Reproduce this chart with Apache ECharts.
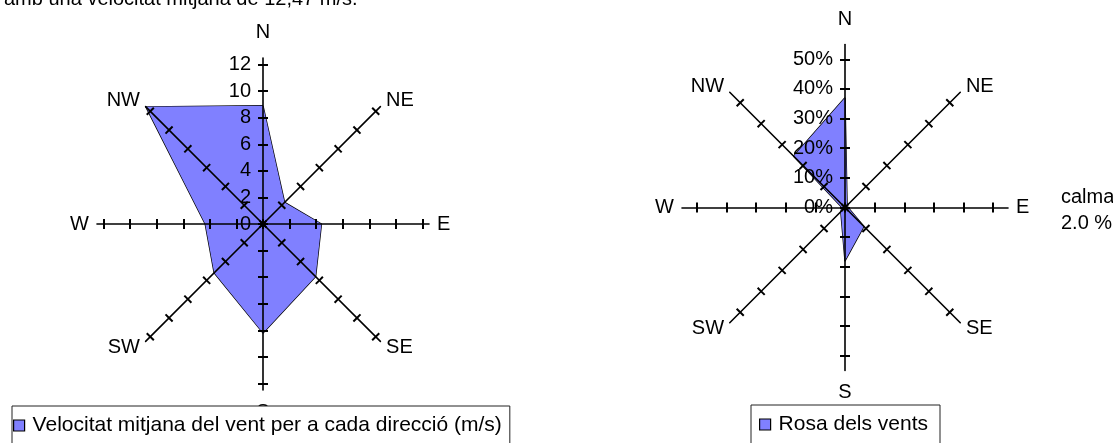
<!DOCTYPE html>
<html>
<head>
<meta charset="utf-8">
<script src="https://cdn.jsdelivr.net/npm/echarts@6/dist/echarts.min.js"></script>
<style>
  html, body { margin: 0; padding: 0; background: #fff; }
  #chart { width: 1113px; height: 443px; }
</style>
</head>
<body>
<div id="chart"></div>
<script>
// directions, counterclockwise from north (radar goes that way)
const directions = ['N', 'NW', 'W', 'SW', 'S', 'SE', 'E', 'NE'];
// mean wind speed per direction (m/s)
const velocity = [8.9, 12.47, 4.35, 5.2, 8.2, 5.6, 4.4, 2.3];
// frequency per direction (%)
const frequency = [37, 24.5, 1, 2, 18, 9, 1, 1];
const calma = 2.0;

const velName = 'Velocitat mitjana del vent per a cada direcció (m/s)';
const roseName = 'Rosa dels vents';

const FONT = "'Liberation Sans', Arial, sans-serif";
const fill = '#8080FF';

// one radar for the spoke lines + names, two more for the crossing ticks
function frameRadar(center, radius, max, gapN, gapS) {
  return {
    center: center,
    radius: radius,
    z: 3,
    indicator: directions.map(d => ({
      name: d, max: max,
      nameGap: d === 'N' ? gapN : (d === 'S' ? gapS : 8)
    })),
    axisName: { show: true, color: '#000', fontSize: 20, fontFamily: FONT },
    nameGap: 8,
    axisLine: { show: true, lineStyle: { color: '#000', width: 1.6 } },
    axisTick: { show: false },
    axisLabel: { show: false },
    splitLine: { show: false },
    splitArea: { show: false }
  };
}

function tickRadar(center, radius, max, split, side, fmt) {
  return {
    center: center,
    radius: radius,
    z: 3,
    splitNumber: split,
    indicator: directions.map((d, i) => ({
      name: d, max: max, min: 0,
      axisLabel: { show: side > 0 && i === 0 }
    })),
    axisName: { show: false },
    axisLine: { show: false },
    axisTick: { show: true, inside: false, length: 5 * side, lineStyle: { color: '#000', width: 2 } },
    axisLabel: {
      color: '#000', fontSize: 20, fontFamily: FONT, margin: 12,
      formatter: fmt
    },
    splitLine: { show: false },
    splitArea: { show: false }
  };
}

function legendBox(name, left, top, padding) {
  return {
    data: [name],
    left: left, top: top,
    padding: padding,
    itemWidth: 11, itemHeight: 11,
    icon: 'rect',
    itemStyle: { color: fill, borderColor: '#000', borderWidth: 1.2 },
    backgroundColor: '#fff',
    borderColor: '#222', borderWidth: 1, borderRadius: 0,
    textStyle: { color: '#000', fontSize: 21, fontFamily: FONT, padding: [0, 0, 0, 3] }
  };
}

function roseSeries(radarIndex, name, values) {
  return {
    type: 'radar',
    radarIndex: radarIndex,
    z: 1,
    symbol: 'none',
    lineStyle: { color: '#000', width: 1.4 },
    areaStyle: { color: fill, opacity: 1 },
    itemStyle: { color: fill },
    data: [{ name: name, value: values }]
  };
}

const leftC = [263, 224];
const rightC = [845, 207.5];

const chart = echarts.init(document.getElementById('chart'));
chart.setOption({
  animation: false,
  textStyle: { fontFamily: FONT },
  title: [
    {
      text: 'amb una velocitat mitjana de 12,47 m/s.',
      left: -1, top: -16,
      textStyle: { fontSize: 20, fontWeight: 'normal', color: '#000', fontFamily: FONT }
    },
    {
      text: 'calma\n' + calma.toFixed(1) + ' %',
      left: 1056, top: 179,
      textStyle: { fontSize: 20, fontWeight: 'normal', color: '#000', lineHeight: 26, fontFamily: FONT }
    }
  ],
  radar: [
    frameRadar(leftC, 166, 12.5, 16, 12),
    tickRadar(leftC, 159.4, 12, 6, 1, '{value}'),
    tickRadar(leftC, 159.4, 12, 6, -1, '{value}'),
    frameRadar(rightC, 163, 55, 15, 12),
    tickRadar(rightC, 148.2, 50, 5, 1, '{value}%'),
    tickRadar(rightC, 148.2, 50, 5, -1, '{value}%')
  ],
  legend: [
    legendBox(velName, 12, 406, [9, 8, 30, 1]),
    legendBox(roseName, 751, 405, [9, 12, 30, 8])
  ],
  series: [
    roseSeries(1, velName, velocity),
    roseSeries(4, roseName, frequency)
  ]
});
</script>
</body>
</html>
